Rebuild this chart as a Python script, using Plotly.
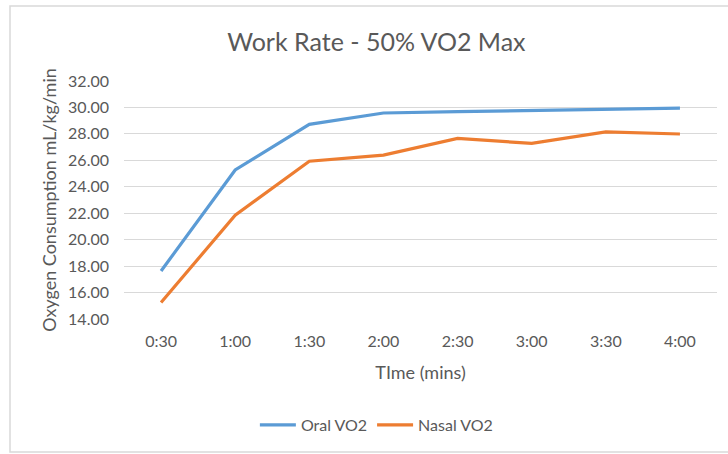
import plotly.graph_objects as go

times = ["0:30", "1:00", "1:30", "2:00", "2:30", "3:00", "3:30", "4:00"]
oral_vo2 = [17.63, 25.27, 28.72, 29.58, 29.68, 29.75, 29.88, 29.95]
nasal_vo2 = [15.25, 21.85, 25.93, 26.40, 27.66, 27.28, 28.15, 27.99]
y_ticks = [14, 16, 18, 20, 22, 24, 26, 28, 30, 32]

FONT = "Lato, Open Sans, sans-serif"
GREY = "#595959"

fig = go.Figure()
fig.add_trace(go.Scatter(x=times, y=oral_vo2, mode="lines", name="Oral VO2",
                         line=dict(color="#5B9BD5", width=3.2)))
fig.add_trace(go.Scatter(x=times, y=nasal_vo2, mode="lines", name="Nasal VO2",
                         line=dict(color="#ED7D31", width=3.2)))

L, R, T, B = 124, 11, 81, 135
W, H = 728, 454
pw, ph = W - L - R, H - T - B

def px_x(x):
    return (x - L) / pw

def px_y(y):
    return (H - B - y) / ph

fig.update_layout(
    width=W, height=H,
    margin=dict(l=L, r=R, t=T, b=B, autoexpand=False),
    paper_bgcolor="white", plot_bgcolor="white",
    font=dict(family=FONT, color=GREY, size=16),
    title=dict(text="Work Rate - 50% VO2 Max", x=0.517, xref="container", xanchor="center",
               y=1 - 42 / H, yref="container", yanchor="middle",
               font=dict(size=25, color=GREY, family=FONT)),
    xaxis=dict(type="category", range=[-0.5, 7.5], showgrid=False, showline=False, zeroline=False,
               ticks="", tickfont=dict(size=16, color=GREY), automargin=False,
               ticklabelstandoff=11,
               title=dict(text="TIme (mins)", font=dict(size=18, color=GREY), standoff=17)),
    yaxis=dict(range=[14, 32], tickvals=y_ticks, tickformat=".2f",
               showgrid=True, gridcolor="#D9D9D9", gridwidth=1, zeroline=False,
               showline=False, ticks="", ticklabelstandoff=14, automargin=False,
               tickfont=dict(size=16, color=GREY),
               title=dict(text="Oxygen Consumption mL/kg/min", font=dict(size=18, color=GREY), standoff=6)),
    legend=dict(orientation="h", x=0.517, xref="container", xanchor="center",
                y=1 - 425 / H, yref="container", yanchor="middle",
                font=dict(size=16, color=GREY), itemwidth=36, tracegroupgap=0),
    showlegend=True,
)

fig.add_shape(type="rect", xref="paper", yref="paper",
              x0=px_x(10), x1=px_x(740), y0=px_y(452), y1=px_y(6),
              line=dict(color="#D9D9D9", width=1.5), fillcolor="rgba(0,0,0,0)", layer="below")

fig.write_html("out.html", config={"displayModeBar": False},
               post_script="document.body.style.margin='0';document.body.style.padding='0';document.body.style.overflow='hidden';")
